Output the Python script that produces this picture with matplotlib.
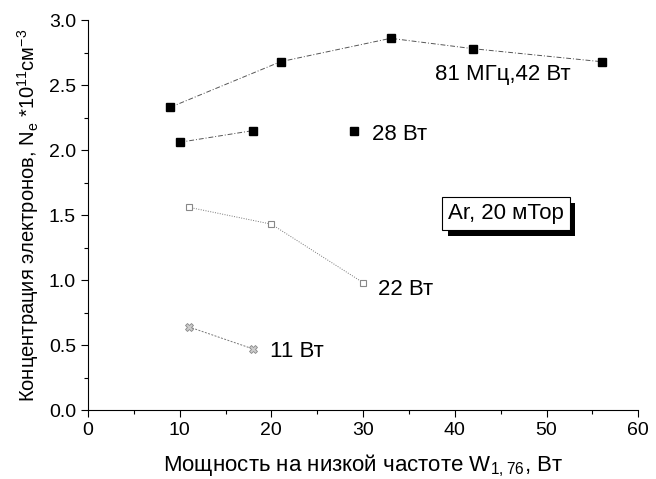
#!/usr/bin/env python3
"""
Electron density vs low-frequency power (Ar, 20 mTorr).
"""

import matplotlib
matplotlib.use('Agg')
import matplotlib.pyplot as plt
import matplotlib.patheffects as pe
from matplotlib.ticker import MultipleLocator

plt.rcParams['font.family'] = ['Liberation Sans', 'DejaVu Sans']
plt.rcParams['mathtext.fontset'] = 'custom'
plt.rcParams['mathtext.rm'] = 'Liberation Sans'

# 81 MHz, 42 W
w_81 = [9, 21, 33, 42, 56]
ne_81 = [2.33, 2.68, 2.86, 2.78, 2.68]

# 28 W (first two points joined, third stands alone)
w_28 = [10, 18, 29]
ne_28 = [2.06, 2.15, 2.15]

# 22 W
w_22 = [11, 20, 30]
ne_22 = [1.56, 1.43, 0.98]

# 11 W
w_11 = [11, 18]
ne_11 = [0.64, 0.47]

fig = plt.figure(figsize=(6.56, 4.79), dpi=100)
ax = fig.add_axes([0.134, 0.144, 0.839, 0.814])

# series
ax.plot(w_81, ne_81, color='#555555', lw=0.7, linestyle=(0, (5, 2, 1, 2)),
        marker='s', ms=5.5, mfc='black', mec='black')
ax.plot(w_28[:2], ne_28[:2], color='#555555', lw=0.7, linestyle=(0, (5, 2, 1, 2)))
ax.plot(w_28, ne_28, linestyle='none', marker='s', ms=5.5, mfc='black', mec='black')
ax.plot(w_22, ne_22, color='#777777', lw=0.7, linestyle=(0, (1, 1.5)),
        marker='s', ms=4, mfc='white', mec='#888888', mew=0.8)
ax.plot(w_11, ne_11, color='#777777', lw=0.7, linestyle=(0, (2, 1.5)),
        marker='X', ms=6, mfc='#cccccc', mec='#888888', mew=0.6)

# labels next to curves
ax.text(37.8, 2.58, '81 МГц,42 Вт', fontsize=16, va='center')
ax.text(31.0, 2.12, '28 Вт', fontsize=16, va='center')
ax.text(31.6, 0.93, '22 Вт', fontsize=16, va='center')
ax.text(19.8, 0.45, '11 Вт', fontsize=16, va='center')

t = ax.text(45.6, 1.51, 'Ar, 20 мТор', fontsize=16, ha='center', va='center',
            bbox=dict(boxstyle='square,pad=0.26', fc='white', ec='black', lw=0.8))
t.get_bbox_patch().set_path_effects([
    pe.SimplePatchShadow(offset=(4, -4), shadow_rgbFace='black', alpha=1.0),
    pe.Normal()])

# axes
ax.set_xlim(0, 60)
ax.set_ylim(0, 3.0)
ax.xaxis.set_major_locator(MultipleLocator(10))
ax.xaxis.set_minor_locator(MultipleLocator(5))
ax.yaxis.set_major_locator(MultipleLocator(0.5))
ax.yaxis.set_minor_locator(MultipleLocator(0.25))
ax.yaxis.set_major_formatter(plt.FormatStrFormatter('%.1f'))
ax.spines['top'].set_visible(False)
ax.spines['right'].set_visible(False)
ax.tick_params(which='major', direction='out', length=5, width=0.8, labelsize=14)
ax.tick_params(which='minor', direction='out', length=3, width=0.8)

ax.set_xlabel(r'Мощность на низкой частоте W$_\mathregular{1,76}$, Вт', fontsize=16, labelpad=10)
ax.set_ylabel(r'Концентрация электронов, N$_\mathregular{e}$ *10$^\mathregular{11}$см$^\mathregular{-3}$',
              fontsize=14.5, labelpad=6)

fig.savefig('out.png', dpi=100)
